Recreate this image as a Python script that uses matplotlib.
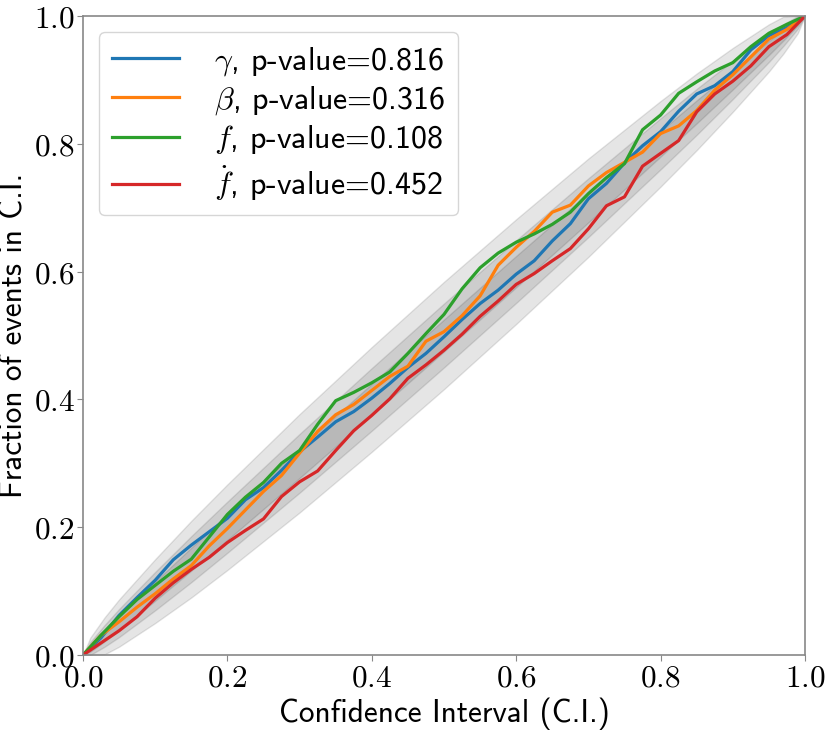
import numpy as np
import matplotlib
matplotlib.use("Agg")
import matplotlib.pyplot as plt

plt.rcParams['font.family'] = ['cmss10', 'DejaVu Sans']
plt.rcParams['mathtext.fontset'] = 'cm'
plt.rcParams['axes.formatter.use_mathtext'] = True

# fraction of events vs confidence interval
ci = [0.0, 0.025, 0.05, 0.075, 0.1, 0.125, 0.15, 0.175, 0.2, 0.225,
      0.25, 0.275, 0.3, 0.325, 0.35, 0.375, 0.4, 0.425, 0.45, 0.475,
      0.5, 0.525, 0.55, 0.575, 0.6, 0.625, 0.65, 0.675, 0.7, 0.725,
      0.75, 0.775, 0.8, 0.825, 0.85, 0.875, 0.9, 0.925, 0.95, 0.975, 1.0]
gamma_frac = [0, 0.027, 0.062, 0.090, 0.117, 0.149, 0.172, 0.193, 0.214, 0.243,
              0.262, 0.289, 0.318, 0.341, 0.365, 0.381, 0.402, 0.425, 0.450, 0.472,
              0.498, 0.525, 0.550, 0.571, 0.596, 0.617, 0.648, 0.675, 0.714, 0.738,
              0.770, 0.797, 0.819, 0.851, 0.878, 0.891, 0.913, 0.947, 0.969, 0.982, 1.0]
beta_frac = [0, 0.031, 0.052, 0.075, 0.096, 0.119, 0.140, 0.171, 0.198, 0.227,
             0.256, 0.281, 0.316, 0.350, 0.376, 0.392, 0.414, 0.436, 0.452, 0.491,
             0.506, 0.531, 0.562, 0.610, 0.638, 0.663, 0.693, 0.704, 0.734, 0.755,
             0.771, 0.787, 0.816, 0.828, 0.852, 0.884, 0.908, 0.936, 0.964, 0.979, 1.0]
f_frac = [0, 0.031, 0.060, 0.087, 0.109, 0.131, 0.150, 0.185, 0.220, 0.247,
          0.270, 0.300, 0.320, 0.361, 0.398, 0.411, 0.426, 0.443, 0.472, 0.503,
          0.533, 0.573, 0.606, 0.629, 0.646, 0.659, 0.674, 0.693, 0.722, 0.747,
          0.769, 0.822, 0.845, 0.879, 0.897, 0.914, 0.927, 0.952, 0.973, 0.987, 1.0]
fdot_frac = [0, 0.019, 0.038, 0.060, 0.089, 0.113, 0.134, 0.153, 0.176, 0.195,
             0.213, 0.248, 0.271, 0.288, 0.320, 0.351, 0.375, 0.401, 0.433, 0.454,
             0.477, 0.502, 0.530, 0.554, 0.580, 0.597, 0.617, 0.636, 0.667, 0.703,
             0.717, 0.765, 0.785, 0.805, 0.850, 0.878, 0.898, 0.922, 0.952, 0.971, 1.0]

labels = [r'$\gamma$, p-value=0.816', r'$\beta$, p-value=0.316',
          r'$f$, p-value=0.108', r'$\dot{f}$, p-value=0.452']

# half widths of the grey bands around the diagonal
band_x = [0.0, 0.01, 0.03, 0.05, 0.1, 0.15, 0.2, 0.3, 0.4, 0.5,
          0.6, 0.7, 0.8, 0.85, 0.9, 0.95, 0.97, 0.99, 1.0]
hw_outer = [0, 0.017, 0.029, 0.037, 0.050, 0.060, 0.067, 0.077, 0.082, 0.084,
            0.082, 0.077, 0.067, 0.060, 0.050, 0.037, 0.029, 0.017, 0]
hw_mid = [0, 0.010, 0.017, 0.022, 0.030, 0.036, 0.040, 0.046, 0.049, 0.050,
          0.049, 0.046, 0.040, 0.036, 0.030, 0.022, 0.017, 0.010, 0]
hw_inner = [0, 0.005, 0.0085, 0.011, 0.015, 0.018, 0.020, 0.023, 0.0245, 0.025,
            0.0245, 0.023, 0.020, 0.018, 0.015, 0.011, 0.0085, 0.005, 0]

fig = plt.figure(figsize=(8.3, 7.32), dpi=100)
ax = fig.add_axes([83 / 830, 77 / 732, 722 / 830, 639 / 732])

bx = np.array(band_x)
for hw in [hw_outer, hw_mid, hw_inner]:
    hw = np.array(hw)
    ax.fill_between(bx, np.clip(bx - hw, 0, 1), np.clip(bx + hw, 0, 1),
                    color='k', alpha=0.1)

for ys, lab in zip([gamma_frac, beta_frac, f_frac, fdot_frac], labels):
    ax.plot(ci, ys, lw=2.3, label=lab)

ax.set_xlim(0, 1)
ax.set_ylim(0, 1)
ticks = [0.0, 0.2, 0.4, 0.6, 0.8, 1.0]
ax.set_xticks(ticks)
ax.set_yticks(ticks)
ax.set_xticklabels([f'${t:.1f}$' for t in ticks])
ax.set_yticklabels([f'${t:.1f}$' for t in ticks])
ax.tick_params(labelsize=22.5, color='#888888', length=4, pad=2)
for sp in ax.spines.values():
    sp.set_color('#888888')
    sp.set_linewidth(1.2)

ax.set_xlabel('Confidence Interval (C.I.)', fontsize=22.5, labelpad=4)
ax.set_ylabel('Fraction of events in C.I.', fontsize=22.5, labelpad=4)

ax.legend(loc='upper left', fontsize=23, labelspacing=0.2, handlelength=2.1,
          handletextpad=1.1)

fig.savefig('out.png', dpi=100)
